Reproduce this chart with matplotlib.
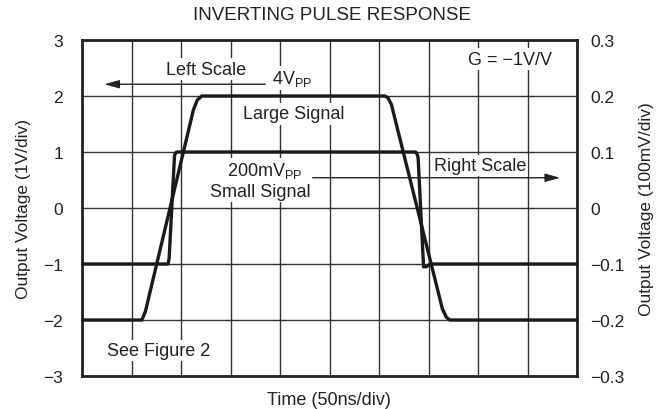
import matplotlib
matplotlib.use("Agg")
import matplotlib.pyplot as plt

plt.rcParams['font.family'] = ['Liberation Sans', 'DejaVu Sans']

# time in divisions (50 ns/div), voltage in left-scale divisions (1 V/div)
large_t = [0.0, 1.21, 1.28, 2.25, 2.33, 2.42, 6.12, 6.18, 6.25, 7.28, 7.36, 7.43, 10.0]
large_v = [-2.0, -2.0, -1.85, 1.75, 1.93, 2.0, 2.0, 1.97, 1.85, -1.8, -1.95, -2.0, -2.0]

small_t = [0.0, 1.74, 1.76, 1.87, 1.91, 6.74, 6.77, 6.79, 6.90, 6.95, 7.03, 10.0]
small_v = [-1.0, -1.0, -0.9, 0.95, 1.0, 1.0, 0.96, 0.9, -1.05, -1.05, -1.0, -1.0]

left_ticks = [-3, -2, -1, 0, 1, 2, 3]
right_labels = ['\u22120.3', '\u22120.2', '\u22120.1', '0', '0.1', '0.2', '0.3']
left_labels = ['\u22123', '\u22122', '\u22121', '0', '1', '2', '3']

fig = plt.figure(figsize=(6.68, 4.10), dpi=100)
ax = fig.add_axes([82/668, 1-377/410, 495/668, 336/410])

ax.set_xlim(0, 10)
ax.set_ylim(-3, 3)
ax.set_xticks(range(0, 11))
ax.set_yticks(left_ticks)
ax.set_yticklabels(left_labels)
ax.tick_params(axis='x', length=0, labelbottom=False)
ax.tick_params(axis='y', length=0, pad=13.5, labelsize=12.5, colors='#222222')
ax.grid(True, color='#333333', linewidth=1.0)
ax.set_axisbelow(True)
for s in ax.spines.values():
    s.set_linewidth(2.0)
    s.set_color('#222222')

ax.plot(large_t, large_v, color='#1a1a1a', linewidth=2.4, solid_joinstyle='round', zorder=3)
ax.plot(small_t, small_v, color='#1a1a1a', linewidth=2.4, solid_joinstyle='round', zorder=3)

ax2 = ax.twinx()
ax2.set_ylim(-3, 3)
ax2.set_yticks(left_ticks)
ax2.set_yticklabels(right_labels)
ax2.tick_params(axis='y', length=0, pad=9.5, labelsize=12.5, colors='#222222')
for s in ax2.spines.values():
    s.set_visible(False)

fig.text(332/668, 1-16/410, 'INVERTING PULSE RESPONSE', ha='center', va='center', fontsize=13.5, color='#222222')
fig.text(329/668, 1-401/410, 'Time (50ns/div)', ha='center', va='center', fontsize=13, color='#222222')
fig.text(24/668, 1-209/410, 'Output Voltage (1V/div)', ha='center', va='center', rotation=90, fontsize=12.5, color='#222222')
fig.text(646/668, 1-209/410, 'Output Voltage (100mV/div)', ha='center', va='center', rotation=90, fontsize=12.5, color='#222222')

bb = dict(facecolor='white', edgecolor='none', pad=1.5)
txt = dict(fontsize=13, color='#222222', zorder=4)

# arrows
ax.annotate('', xy=(0.45, 2.21), xytext=(3.7, 2.21),
            arrowprops=dict(arrowstyle='-|>,head_length=0.9,head_width=0.25', color='#222222', lw=1.0, shrinkA=0, shrinkB=0), zorder=4)
ax.annotate('', xy=(9.66, 0.54), xytext=(4.66, 0.54),
            arrowprops=dict(arrowstyle='-|>,head_length=0.9,head_width=0.25', color='#222222', lw=1.0, shrinkA=0, shrinkB=0), zorder=4)

ax.text(2.5, 2.48, 'Left Scale', ha='center', va='center', bbox=bb, **txt)
ax.text(3.84, 2.32, r'4V$_{\mathregular{PP}}$', ha='left', va='center', bbox=bb, **txt)
ax.text(4.28, 1.68, 'Large Signal', ha='center', va='center', bbox=bb, **txt)
ax.text(2.93, 0.68, r'200mV$_{\mathregular{PP}}$', ha='left', va='center', bbox=bb, **txt)
ax.text(3.6, 0.29, 'Small Signal', ha='center', va='center', bbox=bb, **txt)
ax.text(8.04, 0.76, 'Right Scale', ha='center', va='center', bbox=bb, **txt)
ax.text(8.64, 2.66, 'G = \u22121V/V', ha='center', va='center', bbox=bb, **txt)
ax.text(1.54, -2.55, 'See Figure 2', ha='center', va='center', bbox=bb, **txt)

fig.savefig('out.png', dpi=100)
